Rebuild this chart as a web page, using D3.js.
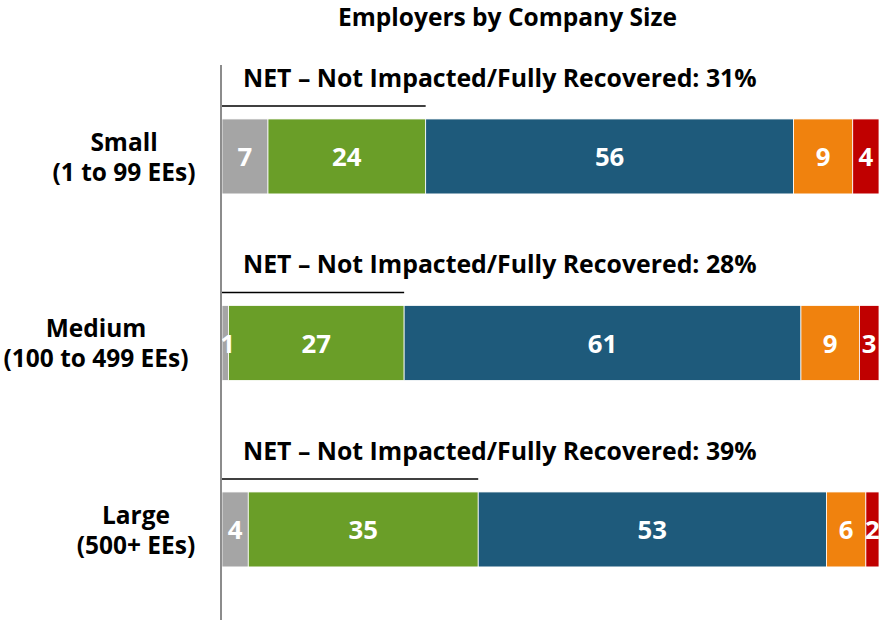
<!DOCTYPE html>
<html><head><meta charset="utf-8">
<script src="https://cdn.jsdelivr.net/npm/d3@7"></script>
<style>body{margin:0;background:#fff}svg{display:block}text{font-family:"Open Sans","Noto Sans",sans-serif;font-weight:bold}</style>
</head><body>
<script>
const categories = ["Small", "Medium", "Large"];
const categoryLines = [["Small", "(1 to 99 EEs)"], ["Medium", "(100 to 499 EEs)"], ["Large", "(500+ EEs)"]];
const seriesNames = ["s1", "s2", "s3", "s4", "s5"];
const seriesColors = ["#a5a5a5", "#6a9e28", "#1e5a7b", "#f0820e", "#c00000"];
const values = [
  [7, 24, 56, 9, 4],
  [1, 27, 61, 9, 3],
  [4, 35, 53, 6, 2]
];
const netValues = [31, 28, 39];
const title = "Employers by Company Size";

// layout constants
const W = 879, H = 620;
const labelCenters = [124, 96, 136];

const svg = d3.select("body").append("svg").attr("width", W).attr("height", H);
const x = d3.scaleLinear().domain([0, 1]).range([222, 879]);
const y = d3.scaleBand().domain(categories).range([63.2, 622.7]).paddingInner(0.598).paddingOuter(0.299);

const rows = categories.map((c, i) => {
  const o = { cat: c };
  seriesNames.forEach((s, j) => o[s] = values[i][j]);
  return o;
});
const stacked = d3.stack().keys(seriesNames).offset(d3.stackOffsetExpand)(rows);

function fit(sel, target) {
  const w = sel.node().getComputedTextLength();
  const s = parseFloat(sel.attr("font-size"));
  sel.attr("font-size", (s * target / w).toFixed(2));
  return s * target / w;
}

const tt = svg.append("text").attr("x", 507.5).attr("y", 16).attr("text-anchor", "middle")
  .attr("dominant-baseline", "central").attr("font-size", 20).attr("fill", "#000").text(title);
fit(tt, 339);

const probe = svg.append("text").attr("font-size", 20).text("(1 to 99 EEs)");
const catSize = fit(probe, 143);
probe.attr("font-size", 20).text("NET – Not Impacted/Fully Recovered: 31%");
const netSize = fit(probe, 514);
probe.attr("font-size", 20).text("24");
const valSize = fit(probe, 29.5);
probe.remove();

const bars = svg.append("g");
const labels = svg.append("g");
stacked.forEach((layer, j) => {
  layer.forEach((d, i) => {
    const c = categories[i];
    const x0 = x(d[0]), x1 = x(d[1]);
    bars.append("rect").attr("x", x0).attr("y", y(c)).attr("width", Math.max(0, x1 - x0)).attr("height", y.bandwidth())
      .attr("fill", seriesColors[j]).attr("stroke", "#fff").attr("stroke-width", 0.8);
    let cx = (x0 + x1) / 2;
    if (x1 - x0 < 12) cx = x1 - 1;
    labels.append("text").attr("x", cx).attr("y", y(c) + y.bandwidth() / 2).attr("text-anchor", "middle")
      .attr("dominant-baseline", "central").attr("font-size", valSize).attr("fill", "#fff").text(values[i][j]);
  });
});

categories.forEach((c, i) => {
  const y0 = y(c), bh = y.bandwidth();
  const netEnd = stacked[1][i][1];
  svg.append("line").attr("x1", x(0)).attr("x2", x(netEnd)).attr("y1", y0 - 13).attr("y2", y0 - 13)
    .attr("stroke", "#000").attr("stroke-width", 1.6);
  svg.append("text").attr("x", 243).attr("y", y0 - 42).attr("dominant-baseline", "central")
    .attr("font-size", netSize).attr("fill", "#000").text("NET – Not Impacted/Fully Recovered: " + netValues[i] + "%");
  const t = svg.append("text").attr("text-anchor", "middle").attr("font-size", catSize).attr("fill", "#000");
  categoryLines[i].forEach((l, k) => {
    t.append("tspan").attr("x", labelCenters[i]).attr("y", y0 + bh / 2 + (k === 0 ? -15 : 15))
      .attr("dominant-baseline", "central").text(l);
  });
});

svg.append("line").attr("x1", 221).attr("x2", 221).attr("y1", 65).attr("y2", 620)
  .attr("stroke", "#8c8c8c").attr("stroke-width", 2);
</script>
</body></html>
